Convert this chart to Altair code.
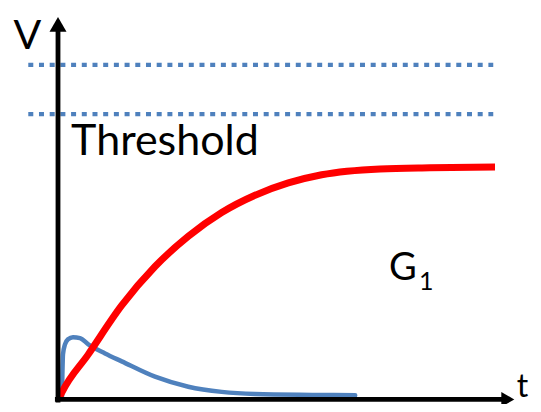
import altair as alt
import pandas as pd

# ---- data (t in arbitrary time units, V in units of the G1 plateau) ----
red_t = [0.03, 0.085, 0.693, 1.458, 2.220, 2.982, 3.746, 4.508, 5.270, 6.034, 7.368, 8.51, 10.0]
red_v = [0.0, 0.022, 0.187, 0.397, 0.564, 0.694, 0.796, 0.870, 0.923, 0.958, 0.983, 0.988, 0.991]

blue_t = [0.09, 0.10, 0.114, 0.16, 0.229, 0.343, 0.503, 0.693, 1.076, 1.458, 2.22, 2.982, 3.746, 4.508, 6.034, 6.8]
blue_v = [0.004, 0.10, 0.187, 0.23, 0.252, 0.261, 0.257, 0.230, 0.191, 0.157, 0.091, 0.048, 0.026, 0.017, 0.013, 0.011]

threshold_levels = [1.430, 1.218]
threshold_start = -0.68
threshold_end = 9.96

# axis lines with arrowheads
yaxis_t = [0.0]
yaxis_v0 = [-0.02]
yaxis_v1 = [1.575]
xaxis_v = [-0.0065]
xaxis_t0 = [-0.07]
xaxis_t1 = [10.16]
arrow_up = {"t": [0.0], "v": [1.604]}
arrow_right = {"t": [10.293], "v": [-0.0065]}

labels = ["V", "Threshold", "G", "1", "t"]
label_t = [-1.02, 0.30, 7.574, 8.261, 10.50]
label_v = [1.50, 1.042, 0.5057, 0.462, 0.006]
label_size = [41, 43, 38, 25, 32]

# ---- scales ----
X0, X1 = -1.1442, 10.8696
Y0, Y1 = -0.02609, 1.67391
xs = alt.Scale(domain=[X0, X1], zero=False, nice=False)
ys = alt.Scale(domain=[Y0, Y1], zero=False, nice=False)

red_df = pd.DataFrame({"t": red_t, "v": red_v})
blue_df = pd.DataFrame({"t": blue_t, "v": blue_v})
thr_df = pd.DataFrame({"v": threshold_levels,
                       "t0": [threshold_start] * len(threshold_levels),
                       "t1": [threshold_end] * len(threshold_levels)})
yax_df = pd.DataFrame({"t": yaxis_t, "v0": yaxis_v0, "v1": yaxis_v1})
xax_df = pd.DataFrame({"v": xaxis_v, "t0": xaxis_t0, "t1": xaxis_t1})
up_df = pd.DataFrame(arrow_up)
right_df = pd.DataFrame(arrow_right)
lab_df = pd.DataFrame({"label": labels, "t": label_t, "v": label_v, "size": label_size})

thr = alt.Chart(thr_df).mark_rule(color="#4f81bd", strokeWidth=4.3,
                                  strokeDash=[5, 5.7], strokeCap="butt").encode(
    x=alt.X("t0:Q", scale=xs, axis=None), x2="t1:Q",
    y=alt.Y("v:Q", scale=ys, axis=None))

yax = alt.Chart(yax_df).mark_rule(color="black", strokeWidth=4.8).encode(
    x=alt.X("t:Q", scale=xs, axis=None),
    y=alt.Y("v0:Q", scale=ys, axis=None), y2="v1:Q")

xax = alt.Chart(xax_df).mark_rule(color="black", strokeWidth=4.8).encode(
    x=alt.X("t0:Q", scale=xs, axis=None), x2="t1:Q",
    y=alt.Y("v:Q", scale=ys, axis=None))

up = alt.Chart(up_df).mark_point(shape="triangle-up", size=289, filled=True,
                                 color="black", opacity=1, strokeWidth=0).encode(
    x=alt.X("t:Q", scale=xs, axis=None), y=alt.Y("v:Q", scale=ys, axis=None))

right = alt.Chart(right_df).mark_point(shape="triangle-right", size=225, filled=True,
                                       color="black", opacity=1, strokeWidth=0).encode(
    x=alt.X("t:Q", scale=xs, axis=None), y=alt.Y("v:Q", scale=ys, axis=None))

blue = alt.Chart(blue_df).mark_line(color="#4f81bd", strokeWidth=4.5,
                                    interpolate="monotone", strokeCap="round").encode(
    x=alt.X("t:Q", scale=xs, axis=None), y=alt.Y("v:Q", scale=ys, axis=None),
    order="t:Q")

red = alt.Chart(red_df).mark_line(color="#ff0000", strokeWidth=7,
                                  interpolate="monotone", strokeCap="butt").encode(
    x=alt.X("t:Q", scale=xs, axis=None), y=alt.Y("v:Q", scale=ys, axis=None),
    order="t:Q")

text = alt.Chart(lab_df).mark_text(align="left", baseline="alphabetic",
                                   font="Lato", color="black").encode(
    x=alt.X("t:Q", scale=xs, axis=None), y=alt.Y("v:Q", scale=ys, axis=None),
    text="label:N", size=alt.Size("size:Q", scale=None, legend=None))

chart = alt.layer(thr, blue, red, yax, xax, up, right, text).properties(
    width=525, height=396, padding=0, autosize=alt.AutoSizeParams(type="none"),
    background="white"
).configure_view(stroke=None)

chart.save("out.html", embed_options={"renderer": "svg", "actions": False})
